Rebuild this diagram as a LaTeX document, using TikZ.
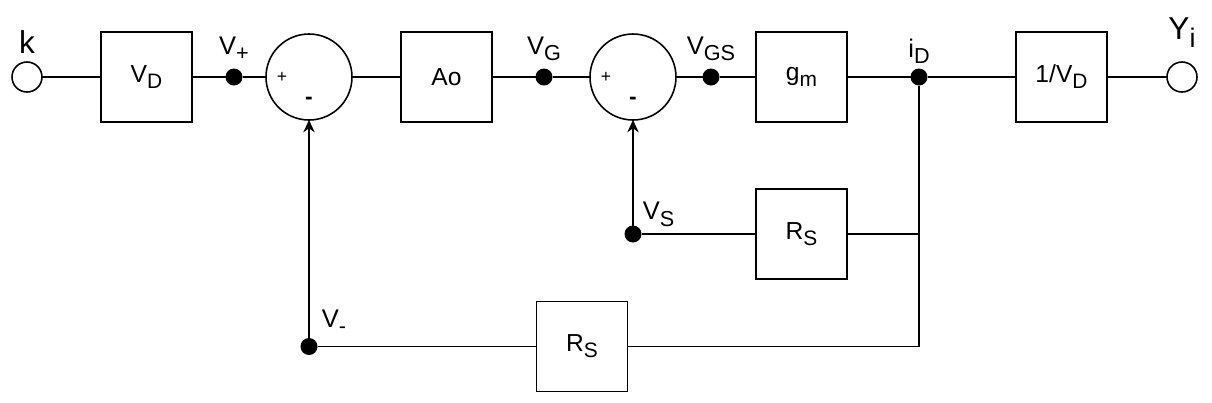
\documentclass[tikz,border=0pt]{standalone}
\usepackage{fontspec}
\setmainfont{Liberation Sans}
\usepackage{graphicx}
\usetikzlibrary{positioning,arrows.meta}
\newcommand{\lowr}[1]{\raisebox{-0.45ex}{\scalebox{0.85}{#1}}}

\begin{document}
\begin{tikzpicture}[
    >={Stealth[length=7pt, width=6.5pt]},
    line width=0.9pt,
    every node/.style={outer sep=0pt},
    blk/.style={draw, minimum width=1.82cm, minimum height=1.8cm, inner sep=0pt,
                font=\fontsize{14}{16}\selectfont},
    sumc/.style={draw, circle, minimum size=1.72cm, inner sep=0pt},
    term/.style={draw, circle, minimum size=0.6cm, inner sep=0pt},
    dot/.style={fill, circle, minimum size=0.34cm, inner sep=0pt},
    lbl/.style={font=\fontsize{14.5}{16}\selectfont, inner sep=1pt},
    big/.style={font=\fontsize{18}{20}\selectfont, inner sep=1pt},
    sgn/.style={font=\fontsize{10}{11}\selectfont, inner sep=0pt},
]
    \useasboundingbox (0,0) rectangle (24.24,-8.04);

    % Forward path
    \node[term] (k) at (0.54,-1.54) {};
    \node[blk, right=1.18cm of k] (vd) {V\lowr{D}};
    \node[dot, right=0.67cm of vd] (vplus) {};
    \node[sumc, right=0.47cm of vplus] (sum1) {};
    \node[blk, right=0.98cm of sum1] (ao) {Ao};
    \node[dot, right=0.87cm of ao] (vg) {};
    \node[sumc, right=0.75cm of vg] (sum2) {};
    \node[dot, right=0.53cm of sum2] (vgs) {};
    \node[blk, right=0.73cm of vgs] (gm) {g\lowr{m}};
    \node[dot, right=1.27cm of gm] (id) {};
    \node[blk, right=1.77cm of id] (inv) {1/V\lowr{D}};
    \node[term, right=1.2cm of inv] (yi) {};

    % Feedback path
    \node[blk, below=1.34cm of gm] (rs1) {R\lowr{S}};
    \node[dot] (vs) at (sum2 |- rs1) {};
    \node[dot, below=4.36cm of sum1] (vminus) {};
    \node[blk, right=4.38cm of vminus] (rs2) {R\lowr{S}};
    \coordinate (ja) at (id |- rs1);
    \coordinate (jb) at (id |- rs2);

    % Signs
    \node[sgn] (p1) at ([xshift=-0.54cm]sum1.center) {+};
    \node[sgn, font=\fontsize{13}{14}\selectfont\bfseries] (m1) at ([yshift=-0.48cm]sum1.center) {-};
    \node[sgn] (p2) at ([xshift=-0.54cm]sum2.center) {+};
    \node[sgn, font=\fontsize{13}{14}\selectfont\bfseries] (m2) at ([yshift=-0.48cm]sum2.center) {-};

    % Labels
    \node[big, above=0.14cm of k] (kl) {k};
    \node[big, above=0.26cm of yi] (yil) {Y\lowr{i}};
    \node[lbl, above=0.12cm of vplus] (vplusl) {V\lowr{+}};
    \node[lbl, above=0.12cm of vg] (vgl) {V\lowr{G}};
    \node[lbl, above=0.12cm of vgs] (vgsl) {V\lowr{GS}};
    \node[lbl, above=0.06cm of id] (idl) {i\lowr{D}};
    \node[lbl, above right=0.0cm and 0.04cm of vs] (vsl) {V\lowr{S}};
    \node[lbl, above right=0.1cm and 0.1cm of vminus] (vminusl) {V\lowr{-}};

    % Main flow
    \draw (k) -- (vd);
    \draw (vd) -- (vplus);
    \draw (vplus) -- (sum1);
    \draw (sum1) -- (ao);
    \draw (ao) -- (vg);
    \draw (vg) -- (sum2);
    \draw (sum2) -- (vgs);
    \draw (vgs) -- (gm);
    \draw (gm) -- (id);
    \draw (id) -- (inv);
    \draw (inv) -- (yi);

    % Feedback
    \draw (id) -- (jb) -- (rs2);
    \draw (rs1) -- (ja);
    \draw (vs) -- (rs1);
    \draw (vminus) -- (rs2);
    \draw[->] (vs) -- (sum2);
    \draw[->] (vminus) -- (sum1);

\end{tikzpicture}
\end{document}
